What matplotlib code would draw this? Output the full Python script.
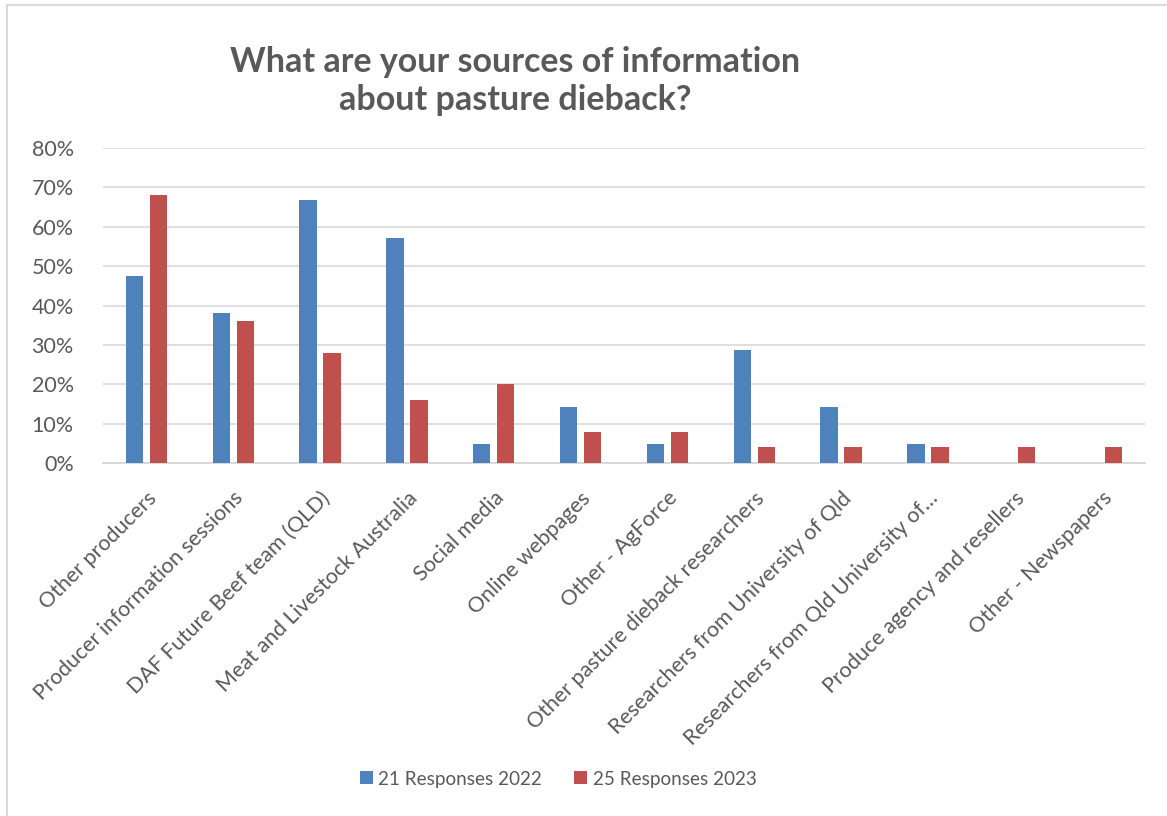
import matplotlib
matplotlib.use("Agg")
import matplotlib.pyplot as plt
import numpy as np
from matplotlib.patches import Rectangle
from matplotlib.ticker import PercentFormatter

categories = ["Other producers", "Producer information sessions", "DAF Future Beef team (QLD)",
              "Meat and Livestock Australia", "Social media", "Online webpages", "Other - AgForce",
              "Other pasture dieback researchers", "Researchers from University of Qld",
              "Researchers from Qld University of…", "Produce agency and resellers", "Other - Newspapers"]
resp_2022 = [47.6, 38.1, 66.7, 57.1, 4.8, 14.3, 4.8, 28.6, 14.3, 4.8, 0, 0]
resp_2023 = [68, 36, 28, 16, 20, 8, 8, 4, 4, 4, 4, 4]
series_names = ["21 Responses 2022", "25 Responses 2023"]
yticks = [0, 10, 20, 30, 40, 50, 60, 70, 80]

plt.rcParams['font.family'] = ['Lato', 'DejaVu Sans']
txt = "#595959"

fig = plt.figure(figsize=(11.67, 8.16), dpi=100)
fig.patches.append(Rectangle((7/1167, -0.1), 1.2, 1 - 5/816 + 0.1, transform=fig.transFigure,
                             fill=False, edgecolor="#d9d9d9", linewidth=1.5))
ax = fig.add_axes([103/1167, 1 - 463/816, (1145 - 103)/1167, (463 - 148)/816])

x = np.arange(len(categories))
w = 0.2
off = 0.138
ax.bar(x - off, resp_2022, w, color="#4f81bd", label=series_names[0], zorder=3)
ax.bar(x + off, resp_2023, w, color="#c0504d", label=series_names[1], zorder=3)

ax.set_xlim(-0.5, len(categories) - 0.5)
ax.set_ylim(0, 80)
ax.set_yticks(yticks)
ax.yaxis.set_major_formatter(PercentFormatter(decimals=0))
ax.grid(axis="y", color="#d9d9d9", linewidth=1.2, zorder=0)
for s in ["top", "right", "left"]:
    ax.spines[s].set_visible(False)
ax.spines["bottom"].set_color("#d9d9d9")
ax.spines["bottom"].set_linewidth(1.5)
ax.tick_params(axis="both", length=0, colors=txt)
ax.tick_params(axis="y", pad=21, labelsize=15.5)
ax.set_xticks(x)
ax.set_xticklabels(categories, rotation=45, ha="right", rotation_mode="anchor", color=txt, fontsize=15.5)
ax.tick_params(axis="x", pad=18)

fig.text(515/1167, 1 - 81/816, "What are your sources of information\nabout pasture dieback?",
         ha="center", va="center", fontsize=24.5, fontweight="bold", color=txt, linespacing=1.22)

leg = fig.legend(loc="center", bbox_to_anchor=(558/1167, 1 - 779/816), ncol=2, frameon=False,
                 fontsize=13.6, handlelength=0.68, handleheight=0.68, handletextpad=0.3, columnspacing=1.7)
for t in leg.get_texts():
    t.set_color(txt)

fig.savefig("out.png", dpi=100)
